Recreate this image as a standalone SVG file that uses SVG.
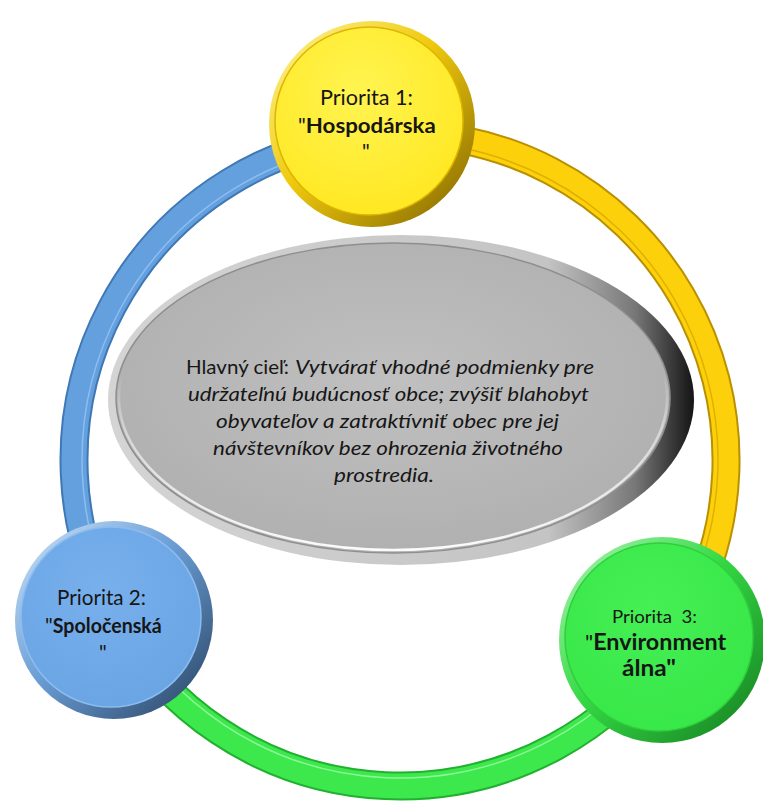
<svg xmlns="http://www.w3.org/2000/svg" width="763" height="803" viewBox="0 0 763 803">
<defs>
<style>
.t{font-family:Lato,"Liberation Sans",sans-serif;fill:#161616}
.b{font-weight:700}
.i{font-style:italic}
.c{font-size:19px}
.n{font-size:21px}
.band{fill:none;stroke-linecap:butt}
</style>
<linearGradient id="rimY" x1="0" y1="0" x2="1" y2="1">
<stop offset="0" stop-color="#fff7a0"/><stop offset="0.45" stop-color="#efc90c"/><stop offset="1" stop-color="#7e6200"/>
</linearGradient>
<radialGradient id="fillY" cx="0.45" cy="0.35" r="0.75">
<stop offset="0" stop-color="#fff451"/><stop offset="1" stop-color="#ffe61c"/>
</radialGradient>
<linearGradient id="rimB" x1="0" y1="0" x2="1" y2="1">
<stop offset="0" stop-color="#d2e6fa"/><stop offset="0.45" stop-color="#6b9fd6"/><stop offset="1" stop-color="#263f5e"/>
</linearGradient>
<radialGradient id="fillB" cx="0.45" cy="0.35" r="0.75">
<stop offset="0" stop-color="#78b0ec"/><stop offset="1" stop-color="#68a3e3"/>
</radialGradient>
<linearGradient id="rimG" x1="0" y1="0" x2="1" y2="1">
<stop offset="0" stop-color="#b2f7b8"/><stop offset="0.45" stop-color="#35d944"/><stop offset="1" stop-color="#137a1e"/>
</linearGradient>
<radialGradient id="fillG" cx="0.45" cy="0.35" r="0.75">
<stop offset="0" stop-color="#45ef55"/><stop offset="1" stop-color="#36e646"/>
</radialGradient>
<linearGradient id="rimE" x1="0" y1="0" x2="1" y2="0">
<stop offset="0" stop-color="#d4d4d4"/><stop offset="0.75" stop-color="#c4c4c4"/><stop offset="0.9" stop-color="#777777"/><stop offset="1" stop-color="#141414"/>
</linearGradient>
<radialGradient id="fillE" cx="0.5" cy="0.45" r="0.6">
<stop offset="0" stop-color="#c0c0c0"/><stop offset="1" stop-color="#afafaf"/>
</radialGradient>
<linearGradient id="hiE" x1="0" y1="1" x2="0" y2="0">
<stop offset="0" stop-color="#ffffff" stop-opacity="0.95"/><stop offset="0.4" stop-color="#ffffff" stop-opacity="0.45"/><stop offset="0.58" stop-color="#ffffff" stop-opacity="0"/>
</linearGradient>
</defs>

<g id="connectors">
<g id="ring-blue">
<path class="band" d="M372.7,135.1 A326,326 0 0 0 115.5,619.1" stroke="#3f78b4" stroke-width="29"/>
<path class="band" d="M372.7,135.1 A326,326 0 0 0 115.5,619.1" stroke="#64a0de" stroke-width="25"/>
<path class="band" d="M373.4,143.1 A318,318 0 0 0 122.5,615.2" stroke="#8dbdf0" stroke-width="1.5"/>
</g>
<g id="ring-green">
<path class="band" d="M115.5,619.1 A326,326 0 0 0 668.7,644.6" stroke="#22b030" stroke-width="29"/>
<path class="band" d="M115.5,619.1 A326,326 0 0 0 668.7,644.6" stroke="#3de84c" stroke-width="25"/>
<path class="band" d="M122.5,615.2 A318,318 0 0 0 662.1,640.1" stroke="#8ef597" stroke-width="1.5"/>
</g>
<g id="ring-yellow">
<path class="band" d="M668.7,644.6 A326,326 0 0 0 372.7,135.1" stroke="#b99000" stroke-width="29"/>
<path class="band" d="M668.7,644.6 A326,326 0 0 0 372.7,135.1" stroke="#fdd00c" stroke-width="25"/>
<path class="band" d="M662.1,640.1 A318,318 0 0 0 373.4,143.1" stroke="#e0b000" stroke-width="1.5"/>
</g>
</g>

<g id="hlavny-ciel">
<ellipse cx="401" cy="400" rx="293" ry="165" fill="url(#rimE)"/>
<ellipse cx="393" cy="398" rx="277" ry="155" fill="url(#fillE)" stroke="#8e8e8e" stroke-width="1.5"/>
<ellipse cx="393" cy="398" rx="274" ry="152" fill="none" stroke="url(#hiE)" stroke-width="2.5"/>
<text class="t c" y="374"><tspan x="186" textLength="103" lengthAdjust="spacingAndGlyphs">Hlavný cieľ:</tspan><tspan class="i" x="295" textLength="299" lengthAdjust="spacingAndGlyphs">Vytvárať vhodné podmienky pre</tspan></text>
<text class="t c i" x="188" y="401" textLength="401" lengthAdjust="spacingAndGlyphs">udržateľnú budúcnosť obce; zvýšiť blahobyt</text>
<text class="t c i" x="216" y="428" textLength="343" lengthAdjust="spacingAndGlyphs">obyvateľov a zatraktívniť obec pre jej</text>
<text class="t c i" x="213" y="455" textLength="350" lengthAdjust="spacingAndGlyphs">návštevníkov bez ohrozenia životného</text>
<text class="t c i" x="334" y="482" textLength="100" lengthAdjust="spacingAndGlyphs">prostredia.</text>
</g>

<g id="priorita-1">
<circle cx="372" cy="124" r="103" fill="url(#rimY)"/>
<circle cx="369" cy="121" r="94" fill="url(#fillY)" stroke="#dcb600" stroke-width="1.5"/>
<text class="t n" x="320" y="105" textLength="93" lengthAdjust="spacingAndGlyphs">Priorita 1:</text>
<text class="t n" x="298" y="133">"<tspan class="b" textLength="130" lengthAdjust="spacingAndGlyphs">Hospodárska</tspan></text>
<text class="t n" x="366" y="159" text-anchor="middle">"</text>
</g>

<g id="priorita-2">
<circle cx="114" cy="620" r="99" fill="url(#rimB)"/>
<circle cx="111" cy="617" r="90" fill="url(#fillB)" stroke="#8cbcef" stroke-width="1.5"/>
<text class="t n" x="57" y="605" textLength="89" lengthAdjust="spacingAndGlyphs">Priorita 2:</text>
<text class="t n" x="45" y="633">"<tspan class="b" textLength="109" lengthAdjust="spacingAndGlyphs">Spoločenská</tspan></text>
<text class="t n" x="103" y="660" text-anchor="middle">"</text>
</g>

<g id="priorita-3">
<circle cx="662" cy="640" r="103" fill="url(#rimG)"/>
<circle cx="659" cy="637" r="94" fill="url(#fillG)" stroke="#2fcf3e" stroke-width="1.5"/>
<text class="t" x="612" y="623" font-size="18" textLength="85" lengthAdjust="spacingAndGlyphs" style="white-space:pre">Priorita  3:</text>
<text class="t" x="585" y="650" font-size="22">"<tspan class="b" textLength="133" lengthAdjust="spacingAndGlyphs">Environment</tspan></text>
<text class="t b" x="622" y="676" font-size="22" textLength="54" lengthAdjust="spacingAndGlyphs">álna"</text>
</g>
</svg>
